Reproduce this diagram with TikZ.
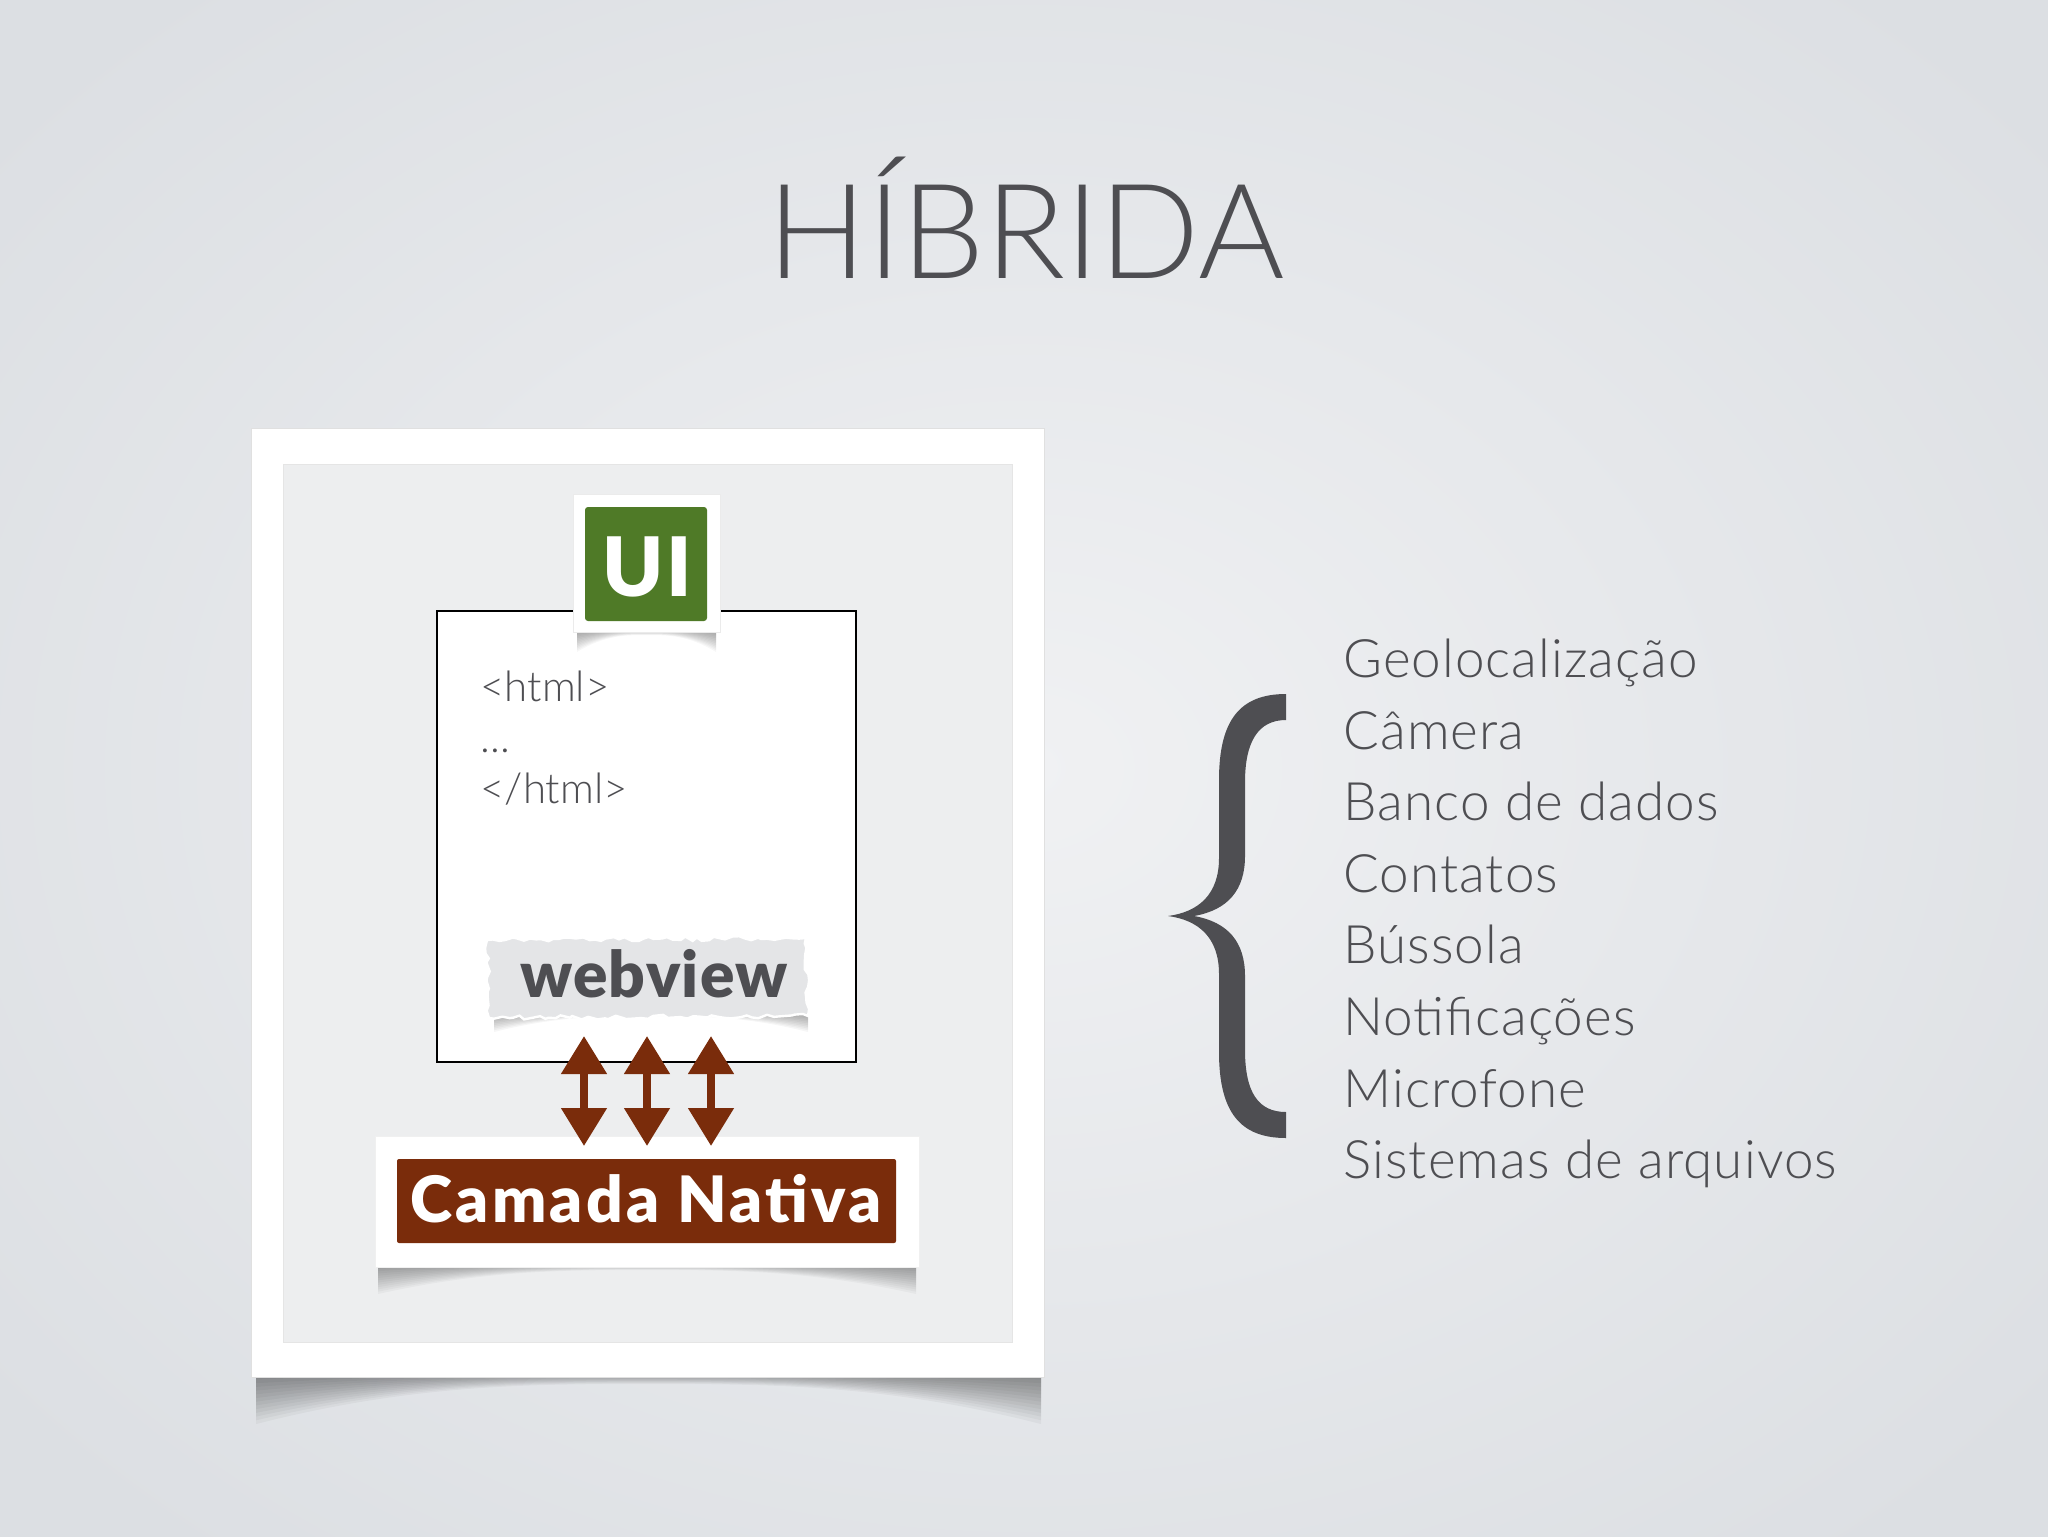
\documentclass[tikz,border=0pt]{standalone}
\usepackage{fontspec}
\IfFontExistsTF{Lato Light}{\setmainfont{Lato Light}}{\setmainfont{Lato}}
\IfFontExistsTF{Lato Black}{\newfontfamily\heavyfont{Lato Black}}{\newcommand\heavyfont{\fontspec{Lato}\bfseries}}
\usetikzlibrary{arrows.meta,decorations.pathmorphing,calc}
\definecolor{bgin}{HTML}{F0F1F3}
\definecolor{bgout}{HTML}{DCDFE3}
\definecolor{txt}{HTML}{4E4E52}
\definecolor{uigreen}{HTML}{4F7A27}
\definecolor{nbrown}{HTML}{7A2C0B}
\definecolor{panel}{HTML}{EDEEEF}
\definecolor{paper}{HTML}{E4E5E7}
\tikzset{
  shadowlayer/.style={fill=black, opacity=#1},
  shadowlayer/.default=0.035,
  plainbox/.style={inner sep=0pt, outer sep=0pt},
  listitem/.style={anchor=base west, inner sep=0pt, text=txt, font=\fontsize{26.5}{30}\selectfont\addfontfeatures{LetterSpace=2}},
  htmltxt/.style={anchor=base west, inner sep=0pt, text=txt, font=\fontsize{21}{24}\selectfont},
  dblarrow/.style={draw=nbrown, line width=4pt, {Triangle[width=22pt,length=19pt]}-{Triangle[width=22pt,length=19pt]}}
}
% curled-paper shadow: #1 left x, #2 right x, #3 top y, #4 depth at the corners, #5 depth at the centre, #6 layer opacity
\newcommand\softshadow[6]{%
  \foreach \k in {1,...,14}{%
    \fill[shadowlayer=#6] (#1,#3) -- (#2,#3) -- (#2,{#3+#4*\k/14})
      .. controls ({#2-(#2-#1)*0.2},{#3+#5*\k/14}) and ({(#1+#2)/2+(#2-#1)*0.15},{#3+#5*\k/14}) .. ({(#1+#2)/2},{#3+#5*\k/14})
      .. controls ({(#1+#2)/2-(#2-#1)*0.15},{#3+#5*\k/14}) and ({#1+(#2-#1)*0.2},{#3+#5*\k/14}) .. (#1,{#3+#4*\k/14}) -- cycle;
  }}
\begin{document}
\begin{tikzpicture}[x=0.5pt,y=-0.5pt]
\useasboundingbox (0,0) rectangle (2048,1536);
% background
\shade[inner color=bgin, outer color=bgout] (-300,-250) rectangle (2348,1786);
% title
\node[anchor=base, inner sep=0pt, text=txt, font=\fontsize{66}{70}\selectfont] (title) at (1026,278) {HÍBRIDA};
% frame shadow
\softshadow{256}{1041}{1372}{52}{12}{0.036}
% outer frame and inner panel
\node[plainbox, fill=white, draw=black!12, minimum width=396.5pt, minimum height=474.5pt] (frame) at (647.5,902.5) {};
\node[plainbox, fill=panel, draw=black!10, minimum width=364.5pt, minimum height=439pt] (panelbox) at (647.5,903) {};
% webview box
\node[plainbox, fill=white, draw=black, line width=1pt, minimum width=209.5pt, minimum height=225.5pt] (box) at (646.5,836.5) {};
% UI tag
\softshadow{577}{716}{628}{24}{7}{0.03}
\node[plainbox, fill=white, draw=black!8, minimum width=73.5pt, minimum height=69pt] (uiback) at (646.5,563) {};
\node[plainbox, fill=uigreen, rounded corners=1.5pt, minimum width=61pt, minimum height=57pt] (uigreenbox) at (646,564) {};
\node[anchor=base, inner sep=0pt, text=white, font=\heavyfont\fontsize{41}{44}\selectfont\addfontfeatures{LetterSpace=3}] (ui) at (647,596) {UI};
% html text
\node[htmltxt] (h1) at (480,701) {<html>};
\node[htmltxt] (h2) at (480,752) {...};
\node[htmltxt] (h3) at (480,803) {</html>};
% webview torn paper
\softshadow{494}{808}{1008}{24}{8}{0.036}
\pgfmathsetseed{7}
\filldraw[fill=paper, draw=white, line width=1.2pt, decorate, decoration={random steps, segment length=3pt, amplitude=1.1pt}] (487,940) -- (806,938) -- (808,1016) -- (489,1018) -- cycle;
\node[anchor=base, inner sep=0pt, text=txt, font=\heavyfont\fontsize{32}{36}\selectfont\addfontfeatures{LetterSpace=2}] (wv) at (654,997) {webview};
% camada nativa
\softshadow{378}{916}{1262}{32}{8}{0.03}
\node[plainbox, fill=white, draw=black!6, minimum width=272pt, minimum height=65.5pt] (natback) at (647,1201.5) {};
\node[plainbox, fill=nbrown, rounded corners=1pt, minimum width=249.5pt, minimum height=42pt] (natbrown) at (646.5,1201) {};
\node[anchor=base, inner sep=0pt, text=white, font=\heavyfont\fontsize{32}{36}\selectfont\addfontfeatures{LetterSpace=5}] (nat) at (646,1222) {Camada Nativa};
% arrows between webview and native layer
\coordinate (a1t) at ($(box.south)+(-62.5,-26)$);
\coordinate (a2t) at ($(box.south)+(0.5,-26)$);
\coordinate (a3t) at ($(box.south)+(64.5,-26)$);
\coordinate (a1b) at ($(natback.north)+(-63,10)$);
\coordinate (a2b) at ($(natback.north)+(0,10)$);
\coordinate (a3b) at ($(natback.north)+(64,10)$);
\draw[dblarrow] (a1t) -- (a1b);
\draw[dblarrow] (a2t) -- (a2b);
\draw[dblarrow] (a3t) -- (a3b);
% brace
\fill[txt] (1286,694) .. controls (1240,694) and (1219,720) .. (1219,780) -- (1219,858)
  .. controls (1219,895) and (1198,912) .. (1168,916)
  .. controls (1198,920) and (1219,937) .. (1219,974) -- (1219,1052)
  .. controls (1219,1112) and (1240,1138) .. (1286,1138) -- (1286,1112)
  .. controls (1258,1112) and (1245,1092) .. (1245,1050) -- (1245,976)
  .. controls (1245,942) and (1228,922) .. (1194,916)
  .. controls (1228,910) and (1245,890) .. (1245,856) -- (1245,782)
  .. controls (1245,742) and (1258,720) .. (1286,720) -- cycle;
% list
\node[listitem] (l1) at (1343,677) {Geolocalização};
\node[listitem] (l2) at (1343,749) {Câmera};
\node[listitem] (l3) at (1343,820) {Banco de dados};
\node[listitem] (l4) at (1343,892) {Contatos};
\node[listitem] (l5) at (1343,963) {Bússola};
\node[listitem] (l6) at (1343,1035) {Notificações};
\node[listitem] (l7) at (1343,1107) {Microfone};
\node[listitem] (l8) at (1343,1178) {Sistemas de arquivos};
\end{tikzpicture}
\end{document}
